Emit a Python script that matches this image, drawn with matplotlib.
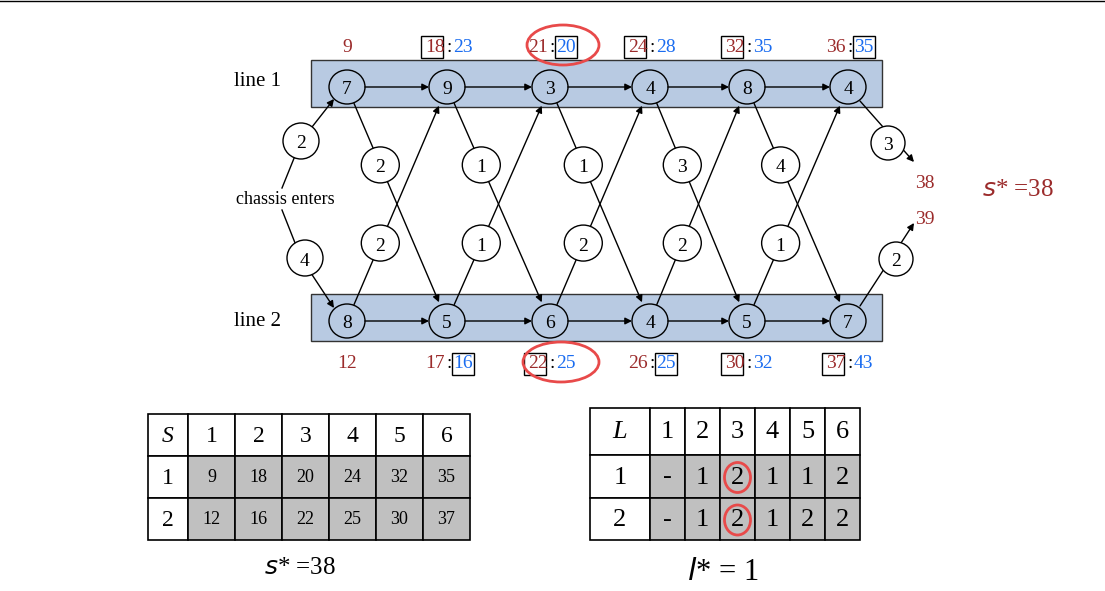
import matplotlib
matplotlib.use("Agg")
import matplotlib.pyplot as plt
from matplotlib.patches import Rectangle, Ellipse

plt.rcParams['font.family'] = ['Liberation Serif', 'DejaVu Serif']

# data
line1_times = [7, 9, 3, 4, 8, 4]
line2_times = [8, 5, 6, 4, 5, 7]
t12 = [2, 1, 1, 3, 4]   # line1 -> line2 transfer
t21 = [2, 1, 2, 2, 1]   # line2 -> line1 transfer
entry = [2, 4]
exit_ = [3, 2]
f1_stay = [9, 18, 21, 24, 32, 36]
f1_move = [None, 23, 20, 28, 35, 35]
f1_box = ['a', 'a', 'b', 'a', 'a', 'b']
f2_stay = [12, 17, 22, 26, 30, 37]
f2_move = [None, 16, 25, 25, 32, 43]
f2_box = ['a', 'b', 'a', 'b', 'a', 'a']
S_table = [[9, 18, 20, 24, 32, 35], [12, 16, 22, 25, 30, 37]]
L_table = [['-', 1, 2, 1, 1, 2], ['-', 1, 2, 1, 2, 2]]
final = [38, 39]

RED = '#9b2b2b'
BLUE = '#1a6cf0'
FILL = '#b8cae2'

fig = plt.figure(figsize=(11.05, 5.91), dpi=100)
ax = fig.add_axes([0, 0, 1, 1])
ax.set_xlim(0, 1105); ax.set_ylim(591, 0); ax.axis('off')
ax.plot([0, 1105], [1, 1], color='k', lw=1)

xs = [347, 447, 550, 650, 747, 848]
y1, y2 = 87, 321
rx, ry = 18, 17

for yy in (y1, y2):
    ax.add_patch(Rectangle((311, yy - 27), 571, 47, fc=FILL, ec='#333', lw=1, zorder=1))
ax.text(258, 82, 'line 1', fontsize=15, ha='center', va='center')
ax.text(258, 322, 'line 2', fontsize=15, ha='center', va='center')

def node(x, y, t, w=36, h=34, z=5):
    ax.add_patch(Ellipse((x, y), w, h, fc='none' if z == 5 else 'white', ec='k', lw=1, zorder=z))
    ax.text(x, y + 3, str(t), fontsize=14, ha='center', va='center', zorder=z + 1)

def arrow(x0, y0, x1, y1):
    ax.annotate('', xy=(x1, y1), xytext=(x0, y0),
                arrowprops=dict(arrowstyle='-|>', color='k', lw=1, mutation_scale=10, shrinkA=0, shrinkB=0), zorder=3)

for i in range(6):
    node(xs[i], y1, line1_times[i])
    node(xs[i], y2, line2_times[i])
for i in range(5):
    arrow(xs[i] + rx, y1, xs[i + 1] - rx, y1)
    arrow(xs[i] + rx, y2, xs[i + 1] - rx, y2)
    # line1 -> line2
    dx, dy = xs[i + 1] - xs[i], y2 - y1
    arrow(xs[i] + dx * 0.07, y1 + dy * 0.07, xs[i + 1] - dx * 0.08, y2 - dy * 0.08)
    cx, cy = xs[i] + dx * 0.333, y1 + dy * 0.333
    node(cx, cy, t12[i], 38, 36, z=6)
    # line2 -> line1
    arrow(xs[i] + dx * 0.07, y2 - dy * 0.07, xs[i + 1] - dx * 0.08, y1 + dy * 0.08)
    cx, cy = xs[i] + dx * 0.333, y2 - dy * 0.333
    node(cx, cy, t21[i], 38, 36, z=6)

# entry
ax.text(285, 199, 'chassis enters', fontsize=13, ha='center', va='center')
ax.plot([282, 301], [188, 141], color='k', lw=1)
ax.plot([282, 301], [210, 258], color='k', lw=1)
arrow(301, 141, 334, 99)
arrow(301, 258, 334, 308)
node(301, 141, entry[0], 36, 36, z=6)
node(305, 258, entry[1], 36, 36, z=6)
# exit
arrow(860, 101, 914, 162)
arrow(860, 306, 914, 223)
node(888, 143, exit_[0], 34, 34, z=6)
node(896, 259, exit_[1], 34, 34, z=6)
ax.text(925, 183, str(final[0]), fontsize=14, color=RED, ha='center', va='center')
ax.text(925, 220, str(final[1]), fontsize=14, color=RED, ha='center', va='center')
ax.text(1018, 190, r'$s$* =38', fontsize=18, color=RED, ha='center', va='center')

def labels(y, stay, move, box):
    for i in range(6):
        x = xs[i]
        if move[i] is None:
            ax.text(x, y, str(stay[i]), fontsize=14, color=RED, ha='center', va='center')
            continue
        t1 = ax.text(x - 2, y, str(stay[i]), fontsize=14, color=RED, ha='right', va='center')
        ax.text(x + 2, y, ':', fontsize=14, ha='center', va='center')
        t2 = ax.text(x + 6, y, str(move[i]), fontsize=14, color=BLUE, ha='left', va='center')
        bx = (x - 26) if box[i] == 'a' else (x + 5)
        ax.add_patch(Rectangle((bx, y - 11), 22, 22, fc='none', ec='k', lw=1))

labels(47, f1_stay, f1_move, f1_box)
labels(364, f2_stay, f2_move, f2_box)
ax.add_patch(Ellipse((563, 45), 72, 40, fc='none', ec='#e84a4a', lw=2))
ax.add_patch(Ellipse((561, 362), 76, 40, fc='none', ec='#e84a4a', lw=2))

# tables
def table(x0, w0, cw, ys, head, rows, circ=False):
    ncol = 6
    for r in range(3):
        for c in range(ncol + 1):
            x = x0 if c == 0 else x0 + w0 + (c - 1) * cw
            w = w0 if c == 0 else cw
            fc = '#c0c0c0' if (r > 0 and c > 0) else 'white'
            ax.add_patch(Rectangle((x, ys[r]), w, ys[r + 1] - ys[r], fc=fc, ec='k', lw=1.2))
            cy = (ys[r] + ys[r + 1]) / 2
            if r == 0:
                txt = head if c == 0 else str(c)
                fs = 17 if not circ else 19
            else:
                txt = str(r) if c == 0 else str(rows[r - 1][c - 1])
                fs = (17 if c == 0 else 13) if not circ else 19
            style = 'italic' if (r == 0 and c == 0) else 'normal'
            ax.text(x + w / 2, cy + 1, txt, fontsize=fs, style=style, ha='center', va='center')
            if circ and r > 0 and c == 3:
                ax.add_patch(Ellipse((x + w / 2, cy + 1), 26, 30, fc='none', ec='#e84a4a', lw=2))

table(148, 40, 47, [414, 456, 498, 540], 'S', S_table)
table(590, 60, 35, [408, 455, 498, 540], 'L', L_table, circ=True)
ax.text(300, 568, r'$s$* =38', fontsize=18, ha='center', va='center')
ax.text(723, 572, r'$l$* = 1', fontsize=22, ha='center', va='center')

fig.savefig('out.png', dpi=100)
